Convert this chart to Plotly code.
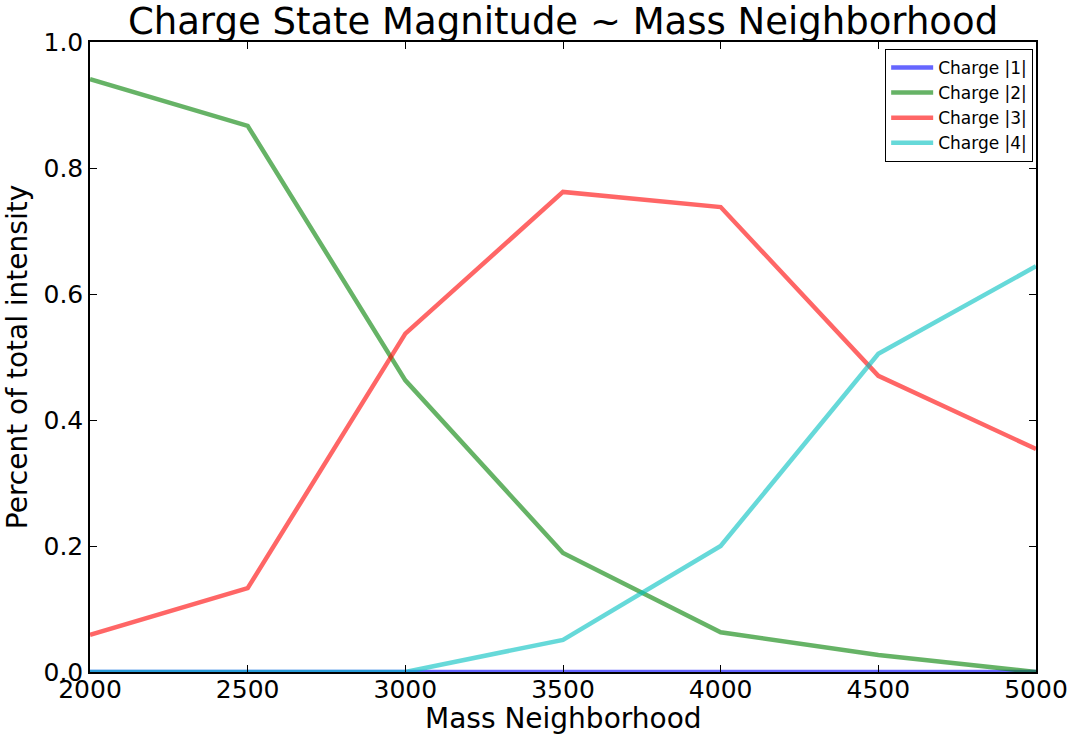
import plotly.graph_objects as go

mass = [2000, 2500, 3000, 3500, 4000, 4500, 5000]
charge1 = [0.0, 0.0, 0.0, 0.0, 0.0, 0.0, 0.0]
charge2 = [0.941, 0.867, 0.463, 0.189, 0.063, 0.027, 0.0]
charge3 = [0.059, 0.133, 0.537, 0.762, 0.738, 0.470, 0.354]
charge4 = [0.0, 0.0, 0.0, 0.051, 0.200, 0.505, 0.644]

series = [
    ("Charge |1|", charge1, "rgba(0,0,255,0.6)"),
    ("Charge |2|", charge2, "rgba(0,128,0,0.6)"),
    ("Charge |3|", charge3, "rgba(255,0,0,0.6)"),
    ("Charge |4|", charge4, "rgba(0,191,191,0.6)"),
]

fig = go.Figure()
for name, ys, color in series:
    fig.add_trace(go.Scatter(x=mass, y=ys, mode="lines", name=name,
                             line=dict(color=color, width=4.5)))

font = "DejaVu Sans, Arial, sans-serif"
W, H = 1073, 740
L, R, T, B = 90, 37, 42, 68
fig.update_layout(
    width=W, height=H,
    margin=dict(l=L, r=R, t=T, b=B),
    paper_bgcolor="white", plot_bgcolor="white",
    font=dict(family=font, color="black"),
    title=dict(text="Charge State Magnitude ~ Mass Neighborhood",
               font=dict(size=37, family=font, color="black"),
               x=563 / W, xanchor="center", y=1 - 21 / H, yanchor="middle"),
    legend=dict(x=0.997, xanchor="right", y=0.989, yanchor="top",
                bordercolor="black", borderwidth=1, bgcolor="white",
                itemwidth=42, tracegroupgap=0,
                font=dict(size=17, family=font)),
    xaxis=dict(range=[2000, 5000], tickvals=[2000, 2500, 3000, 3500, 4000, 4500, 5000],
               ticks="inside", ticklen=7, tickcolor="black", mirror="ticks",
               showline=True, linecolor="black", linewidth=1.5, showgrid=False,
               zeroline=False, tickfont=dict(size=25, family=font),
               ticklabeloverflow="allow", ticklabelstandoff=-6, automargin=False),
    yaxis=dict(range=[0, 1], tickvals=[0, 0.2, 0.4, 0.6, 0.8, 1.0], tickformat=".1f",
               ticks="inside", ticklen=7, tickcolor="black", mirror="ticks",
               showline=True, linecolor="black", linewidth=1.5, showgrid=False,
               zeroline=False, tickfont=dict(size=25, family=font), automargin=False,
               title=dict(text="Percent of total intensity", font=dict(size=28, family=font), standoff=8)),
    annotations=[dict(text="Mass Neighborhood", xref="paper", yref="paper",
                      x=0.5, y=-46 / (H - T - B), xanchor="center", yanchor="middle",
                      showarrow=False, font=dict(size=28, family=font, color="black"))],
)

fig.write_html("out.html", config={"displayModeBar": False},
               post_script="document.body.style.margin='0';")
